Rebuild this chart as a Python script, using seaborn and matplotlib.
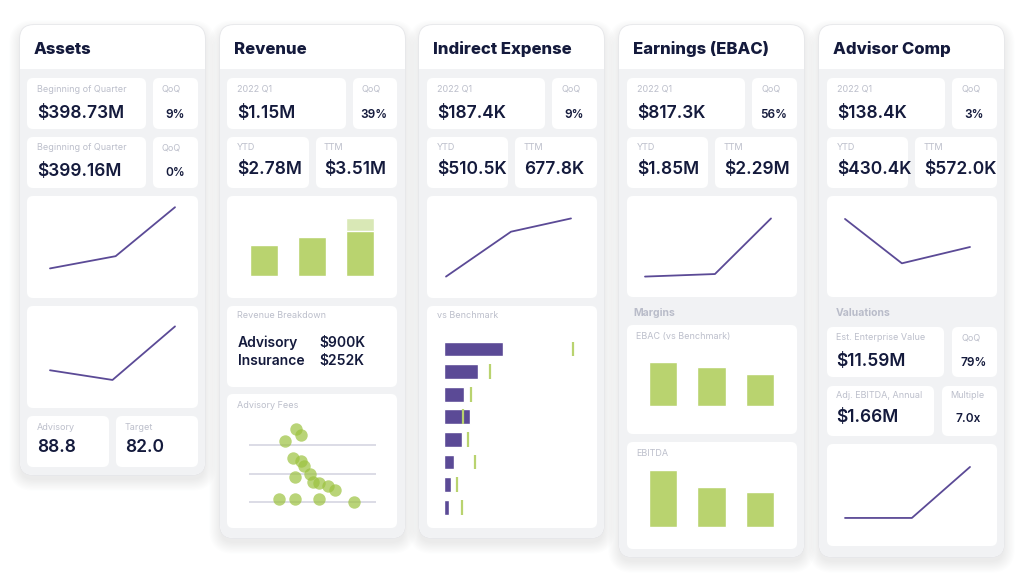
import matplotlib
matplotlib.use("Agg")
import matplotlib.pyplot as plt
from matplotlib.patches import FancyBboxPatch, Rectangle
import seaborn as sns

# ---- data ----
titles = ["Assets", "Revenue", "Indirect Expense", "Earnings (EBAC)", "Advisor Comp"]

assets_labels = ["Beginning of Quarter", "Beginning of Quarter"]
assets_values = ["$398.73M", "$399.16M"]
assets_qoq = ["9%", "0%"]
assets_bottom_labels = ["Advisory", "Target"]
assets_bottom_values = ["88.8", "82.0"]

kpi_period = "2022 Q1"
kpi_q1 = ["$1.15M", "$187.4K", "$817.3K", "$138.4K"]
kpi_qoq = ["39%", "9%", "56%", "3%"]
kpi_ytd = ["$2.78M", "$510.5K", "$1.85M", "$430.4K"]
kpi_ttm = ["$3.51M", "677.8K", "$2.29M", "$572.0K"]

# line charts (x = quarter position, y = index 0-100)
assets_x1 = [0, 1.05, 2]
assets_y1 = [29, 41, 89]
assets_x2 = [0, 1.0, 2]
assets_y2 = [37, 27.5, 80]
indirect_x = [0, 1.04, 2]
indirect_y = [21, 65, 78]
earnings_x = [0, 1.11, 2]
earnings_y = [21, 23.5, 78]
advisor_x = [0, 0.91, 2]
advisor_y = [77.5, 34, 50]
valuation_x = [0, 1.07, 2]
valuation_y = [27.5, 27.5, 77.5]

# revenue bars ($K)
rev_quarters = ["2021 Q3", "2021 Q4", "2022 Q1"]
rev_advisory = [615, 775, 900]
rev_insurance = [0, 0, 252]
breakdown_names = ["Advisory", "Insurance"]
breakdown_values = ["$900K", "$252K"]

# advisory fees dots
fee_x = [37, 41, 28, 35, 41, 43, 48, 36, 50, 55, 62, 68, 24, 36, 55, 83]
fee_y = [2.55, 2.35, 2.15, 1.53, 1.45, 1.26, 0.98, 0.87, 0.71, 0.66, 0.56, 0.42, 0.1, 0.1, 0.1, 0.01]
fee_levels = [0, 1, 2]

# indirect expense vs benchmark ($K)
expense_cats = ["E1", "E2", "E3", "E4", "E5", "E6", "E7", "E8"]
expense_vals = [119, 68, 41, 53, 37, 21, 14, 10]
expense_bench = [258, 92, 55, 38, 49, 63, 26, 37]

# margins
margin_quarters = ["2021 Q3", "2021 Q4", "2022 Q1"]
ebac_margin = [71, 63, 52]
ebitda_margin = [46, 32, 28]

valuation_labels = ["Est. Enterprise Value", "QoQ", "Adj. EBITDA, Annual", "Multiple"]
valuation_values = ["$11.59M", "79%", "$1.66M", "7.0x"]

# ---- style ----
NAVY = "#141a3c"
GRAY_TXT = "#bcbfcb"
SEC_TXT = "#b9bcc9"
CARD_BG = "#f1f2f4"
PURPLE = "#5b4a96"
GREEN = "#b9d36f"
LIGHT_GREEN = "#d9e8b6"
DOT = "#9cc23f"
GRID = "#d6d6e2"

sns.set_theme(style="white")
plt.rcParams["font.family"] = ["Inter", "DejaVu Sans"]

W, H = 1024, 576
fig = plt.figure(figsize=(W / 100, H / 100), dpi=100)
fig.patch.set_facecolor("white")
bg = fig.add_axes([0, 0, 1, 1])
bg.set_xlim(0, W)
bg.set_ylim(H, 0)
bg.axis("off")


def rbox(x0, y0, x1, y1, color, r=6, z=2, alpha=1.0):
    bg.add_patch(FancyBboxPatch((x0, y0), x1 - x0, y1 - y0,
                                boxstyle=f"round,pad=0,rounding_size={r}",
                                fc=color, ec="none", zorder=z, alpha=alpha))


def add_ax(box):
    x0, y0, x1, y1 = box
    ax = fig.add_axes([x0 / W, 1 - y1 / H, (x1 - x0) / W, (y1 - y0) / H])
    ax.patch.set_alpha(0)
    ax.set_zorder(5)
    return ax


def label(x, y, s, size=6.5, color=GRAY_TXT, weight="normal", ha="left"):
    bg.text(x, y, s, fontsize=size, color=color, va="center", ha=ha,
            fontweight=weight, zorder=6)


def value(x, y, s, size=12.5, ha="left", weight="semibold"):
    bg.text(x, y, s, fontsize=size, color=NAVY, va="center", ha=ha, fontweight=weight, zorder=6)


# cards with soft shadow, white header and gray body
cards = [(20, 205, 475), (220, 405, 538), (419, 604, 538), (619, 804, 557), (819, 1004, 557)]
for (x0, x1, yb), t in zip(cards, titles):
    for k in range(10):
        e = k * 1.2
        rbox(x0 - e, 25 - e + 6, x1 + e, yb + e + 5, "#7d808c", r=14 + e, z=0.5, alpha=0.012)
    rbox(x0 - 0.8, 24.2, x1 + 0.8, yb + 0.8, "#e6e7ea", r=14.8, z=0.9)
    rbox(x0, 25, x1, yb, "white", r=14, z=1)
    rbox(x0, 69, x1, yb, CARD_BG, r=14, z=1.1)
    bg.add_patch(Rectangle((x0, 69), x1 - x0, 20, fc=CARD_BG, ec="none", zorder=1.1))
    bg.text(x0 + 14, 49, t, fontsize=12, fontweight="heavy", color=NAVY, va="center", zorder=6)

# white inner boxes
boxes = [
    (27, 78, 146, 129), (153, 78, 198, 129), (27, 137, 146, 188), (153, 137, 198, 188),
    (27, 196, 198, 298), (27, 306, 198, 408), (27, 416, 109, 467), (116, 416, 198, 467),
    (227, 78, 346, 129), (353, 78, 397, 129), (227, 137, 309, 188), (316, 137, 397, 188),
    (227, 196, 397, 298), (227, 306, 397, 387), (227, 394, 397, 528),
    (427, 78, 545, 129), (552, 78, 597, 129), (427, 137, 508, 188), (515, 137, 597, 188),
    (427, 196, 597, 298), (427, 306, 597, 528),
    (627, 78, 745, 129), (752, 78, 797, 129), (627, 137, 708, 188), (715, 137, 797, 188),
    (627, 196, 797, 297), (627, 325, 797, 434), (627, 442, 797, 549),
    (827, 78, 945, 129), (952, 78, 997, 129), (827, 137, 908, 188), (915, 137, 997, 188),
    (827, 196, 997, 297), (827, 327, 944, 377), (952, 327, 997, 377),
    (827, 386, 934, 436), (942, 386, 997, 436), (827, 444, 997, 546),
]
for b in boxes:
    rbox(*b, "white", r=6, z=2)

# ---- KPI texts ----
for i, (lab, val, q) in enumerate(zip(assets_labels, assets_values, assets_qoq)):
    yo = i * 58.5
    label(37, 89.5 + yo, lab)
    label(162, 89.5 + yo, "QoQ")
    value(37, 113 + yo, val)
    value(175, 115 + yo, q, size=8.5, ha="center")
for xl, lab, val in zip([37, 125], assets_bottom_labels, assets_bottom_values):
    label(xl, 427, lab)
    value(xl, 447, val, size=12.5)

col_x = [227, 427, 627, 827]
for cx, q1, qq, ytd, ttm in zip(col_x, kpi_q1, kpi_qoq, kpi_ytd, kpi_ttm):
    label(cx + 10, 89.5, kpi_period)
    label(cx + 135, 89.5, "QoQ")
    value(cx + 10, 113, q1)
    value(cx + 147, 115, qq, size=8.5, ha="center")
    label(cx + 10, 148, "YTD")
    label(cx + 97, 148, "TTM")
    value(cx + 10, 170, ytd)
    value(cx + 97, 170, ttm)

label(237, 316, "Revenue Breakdown")
for i, (n, v) in enumerate(zip(breakdown_names, breakdown_values)):
    value(238, 343 + 18 * i, n, size=10)
    value(319, 343 + 18 * i, v, size=10)
label(237, 405, "Advisory Fees")
label(437, 316, "vs Benchmark")
label(633, 313, "Margins", size=7.5, color=SEC_TXT, weight="bold")
label(636, 336, "EBAC (vs Benchmark)")
label(636, 453, "EBITDA")
label(836, 313, "Valuations", size=7.5, color=SEC_TXT, weight="bold")
label(836, 338, valuation_labels[0])
label(961, 338, valuation_labels[1])
label(836, 396, valuation_labels[2])
label(950, 396, valuation_labels[3])
value(836, 361, valuation_values[0])
value(974, 363, valuation_values[1], size=8.5, ha="center")
value(836, 417, valuation_values[2])
value(968, 419, valuation_values[3], size=8.5, ha="center")


# ---- charts ----
def line_chart(box, x, y, margins):
    ax = add_ax(box)
    sns.lineplot(x=x, y=y, color=PURPLE, lw=1.3, ax=ax)
    ppu = (box[2] - box[0] - margins[0] - margins[1]) / 2
    ax.set_xlim(-margins[0] / ppu, 2 + margins[1] / ppu)
    ax.set_ylim(0, 100)
    ax.axis("off")


line_chart((27, 196, 198, 298), assets_x1, assets_y1, (23, 23))
line_chart((27, 306, 198, 408), assets_x2, assets_y2, (23, 23))
line_chart((427, 196, 597, 298), indirect_x, indirect_y, (19, 26))
line_chart((627, 196, 797, 298), earnings_x, earnings_y, (18, 26))
line_chart((827, 196, 997, 298), advisor_x, advisor_y, (18, 27))
line_chart((827, 444, 997, 546), valuation_x, valuation_y, (18, 27))


def bar_chart(box, cats, layers, base_px, ppu, first_px, step_px):
    ax = add_ax(box)
    for vals, col in layers:
        sns.barplot(x=cats, y=vals, color=col, width=0.58, saturation=1,
                    errorbar=None, ax=ax)
    ax.set_xlim((box[0] - first_px) / step_px, 2 + (box[2] - first_px - 2 * step_px) / step_px)
    ax.set_ylim(-(box[3] - base_px) / ppu, (base_px - box[1]) / ppu)
    ax.axis("off")


rev_total = [a + b for a, b in zip(rev_advisory, rev_insurance)]
bar_chart((227, 196, 397, 298), rev_quarters,
          [(rev_total, LIGHT_GREEN), (rev_advisory, GREEN)], 276, 58 / 1152, 264, 48)
bar_chart((627, 325, 797, 434), margin_quarters, [(ebac_margin, GREEN)], 406, 0.62, 663, 48.5)
bar_chart((627, 442, 797, 549), margin_quarters, [(ebitda_margin, GREEN)], 527, 1.239, 663, 48.5)

# advisory fees dot plot
box = (227, 394, 397, 528)
ax = add_ax(box)
ax.hlines(fee_levels, 0, 100, color=GRID, lw=1.2, zorder=1)
sns.scatterplot(x=fee_x, y=fee_y, s=80, color=DOT, alpha=0.7, linewidth=0, ax=ax, zorder=2)
ax.set_xlim((227 - 249) / 1.27, (397 - 249) / 1.27)
ax.set_ylim((502 - 528) / 28.5, (502 - 394) / 28.5)
ax.axis("off")

# vs benchmark horizontal bars
box = (427, 306, 597, 528)
ax = add_ax(box)
sns.barplot(x=expense_vals, y=expense_cats, orient="h", color=PURPLE, width=0.66,
            saturation=1, errorbar=None, ax=ax)
ax.vlines(expense_bench, [i - 0.33 for i in range(len(expense_cats))],
          [i + 0.33 for i in range(len(expense_cats))], color=GREEN, lw=1.6)
ax.set_xlim(-(443.7 - 427) / 0.5, (597 - 443.7) / 0.5)
ax.set_ylim((528 - 349) / 22.6, (306 - 349) / 22.6)
ax.axis("off")

fig.savefig("out.png", dpi=100, facecolor="white")
